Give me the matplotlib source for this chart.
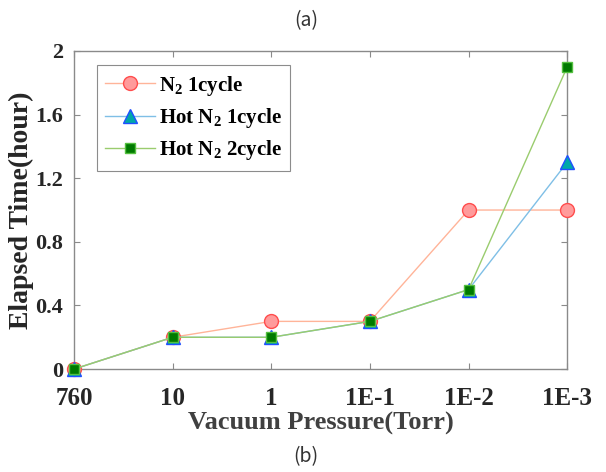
import matplotlib
matplotlib.use('Agg')
from matplotlib import pyplot as plt

# datos
presiones = ['760', '10', '1', '1E-1', '1E-2', '1E-3']
n2_1ciclo = [0, 0.2, 0.3, 0.3, 1.0, 1.0]
hot_n2_1ciclo = [0, 0.2, 0.2, 0.3, 0.5, 1.3]
hot_n2_2ciclo = [0, 0.2, 0.2, 0.3, 0.5, 1.9]
y_ticks = [0, 0.4, 0.8, 1.2, 1.6, 2]
y_tick_labels = ['0', '0.4', '0.8', '1.2', '1.6', '2']

plt.rcParams['mathtext.fontset'] = 'custom'
plt.rcParams['mathtext.rm'] = 'Liberation Serif:bold'
plt.rcParams['mathtext.it'] = 'Liberation Serif:bold'
plt.rcParams['mathtext.bf'] = 'Liberation Serif:bold'

serif = 'Liberation Serif'
gris = '#262626'

fig = plt.figure(figsize=(6.06, 4.72), dpi=100)
ax = fig.add_axes([0.122, 0.218, 0.814, 0.674])

x = list(range(len(presiones)))
ax.plot(x, n2_1ciclo, '-o', color='#ffb499', lw=1, ms=10, clip_on=False, zorder=3,
        mfc='#ff9b9b', mec='#ff4d4d', mew=1, label=r'N$_2$ 1cycle')
ax.plot(x, hot_n2_1ciclo, '-^', color='#7fbfe6', lw=1, ms=10, clip_on=False, zorder=4,
        mfc='#00a8a8', mec='#1f4fff', mew=1, label=r'Hot N$_2$ 1cycle')
ax.plot(x, hot_n2_2ciclo, '-s', color='#9acc6e', lw=1, ms=7, clip_on=False, zorder=5,
        mfc='#007a00', mec='#55c040', mew=1, label=r'Hot N$_2$ 2cycle')

ax.set_xlim(0, 5)
ax.set_ylim(0, 2)
ax.set_xticks(x)
ax.set_xticklabels(presiones, fontfamily=serif, fontweight='bold', fontsize=18, color=gris)
ax.set_yticks(y_ticks)
ax.set_yticklabels(y_tick_labels, fontfamily=serif, fontweight='bold', fontsize=16, color=gris)
ax.tick_params(direction='in', length=4, width=0.8, color='#8a8a8a',
               top=True, right=True)
ax.tick_params(axis='x', pad=13)
ax.tick_params(axis='y', pad=8)
for s in ax.spines.values():
    s.set_color('#8a8a8a')
    s.set_linewidth(1)

ax.set_xlabel('Vacuum Pressure(Torr)', fontfamily=serif, fontweight='bold',
              fontsize=19, color='#404040', labelpad=1)
ax.set_ylabel('Elapsed Time(hour)', fontfamily=serif, fontweight='bold',
              fontsize=20, color='#262626', labelpad=1)

leg = ax.legend(loc='upper left', bbox_to_anchor=(0.047, 0.955),
                prop={'family': serif, 'weight': 'bold', 'size': 15},
                frameon=True, fancybox=False, edgecolor='#707070',
                handlelength=2.4, handletextpad=0.15, borderpad=0.4,
                labelspacing=0.4, borderaxespad=0)
leg.get_frame().set_linewidth(0.8)

fig.text(0.505, 0.957, '(a)', ha='center', va='center', fontsize=14,
         family=['Noto Sans CJK KR', 'DejaVu Sans'], weight='light', color='#333333')
fig.text(0.505, 0.033, '(b)', ha='center', va='center', fontsize=14,
         family=['Noto Sans CJK KR', 'DejaVu Sans'], weight='light', color='#333333')

plt.savefig('out.png', dpi=100)
